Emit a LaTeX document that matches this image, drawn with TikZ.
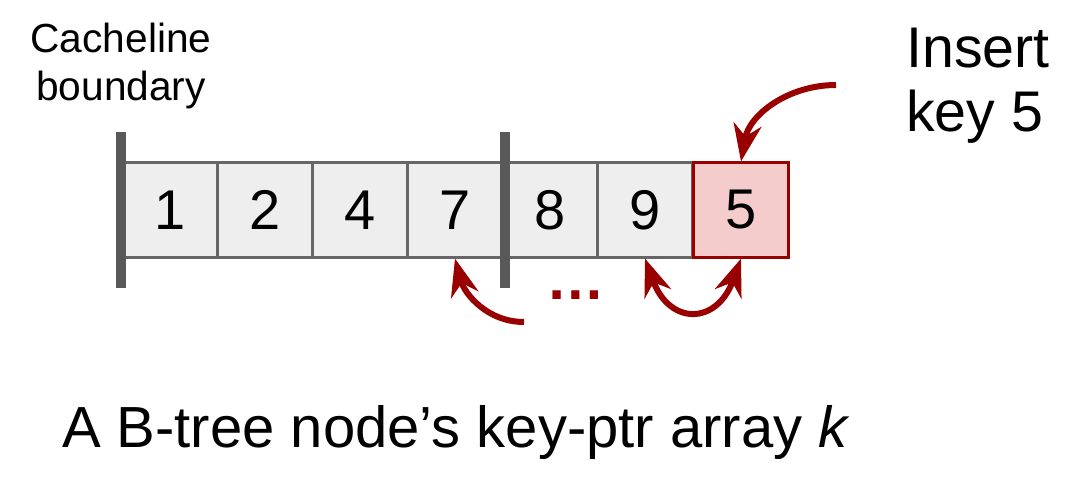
\documentclass[tikz,border=0pt]{standalone}
\usepackage{fontspec}
\setmainfont{Liberation Sans}
\usepackage{xcolor}
\usetikzlibrary{arrows.meta}

\definecolor{cellgray}{HTML}{EEEEEE}
\definecolor{linegray}{HTML}{666666}
\definecolor{bargray}{HTML}{595959}
\definecolor{newred}{HTML}{F4CCCC}
\definecolor{darkred}{HTML}{990000}

\tikzset{
    cell/.style={draw=linegray, line width=1.6pt, fill=cellgray, minimum width=71.25pt,
        minimum height=71.25pt, inner sep=0pt, font=\fontsize{42}{48}\selectfont},
    newcell/.style={cell, draw=darkred, fill=newred},
    bar/.style={draw=bargray, line width=8pt},
    move/.style={draw=darkred, line width=4.5pt,
        -{Stealth[length=28pt, width=21pt, inset=9pt]}},
}

\begin{document}
\begin{tikzpicture}[x=0.75pt, y=0.75pt]
        \useasboundingbox (0, 0) rectangle (1072, 480);

        \node[cell] (c1) at (170, 270) {1};
        \node[cell] (c2) at (265, 270) {2};
        \node[cell] (c4) at (360, 270) {4};
        \node[cell] (c7) at (455, 270) {7};
        \node[cell] (c8) at (550, 270) {8};
        \node[cell] (c9) at (645, 270) {9};
        \node[newcell] (c5) at (741, 270) {5};

        % cacheline boundaries
        \draw[bar] (121, 348) -- (121, 192)
            (505, 348) -- (505, 192);

        \node[align=center, font=\fontsize{30.5}{36}\selectfont] (cl) at (121, 414) {Cacheline\\boundary};
        \node[align=left, anchor=west, inner sep=0pt, font=\fontsize{43}{48}\selectfont] (ins) at (906, 394) {Insert\\key 5};
        \node[font=\fontsize{43.5}{50}\selectfont] (title) at (456, 47) {A B-tree node’s key-ptr array \textit{k}};
        \node[text=darkred, font=\fontsize{44}{48}\selectfont\bfseries] (dots) at (576, 185) {…};

        \coordinate (from) at (836, 395);
        \coordinate (shift) at (524, 158);

        \draw[move] (from) to[out=180, in=80] (c5.north);
        \draw[move] (shift) to[out=180, in=-75] (c7.south);
        \draw[move, {Stealth[length=28pt, width=21pt, inset=9pt]}-{Stealth[length=28pt, width=21pt, inset=9pt]}]
            (c9.south) to[out=-70, in=-110, looseness=1.9] (c5.south);
    \end{tikzpicture}
\end{document}
